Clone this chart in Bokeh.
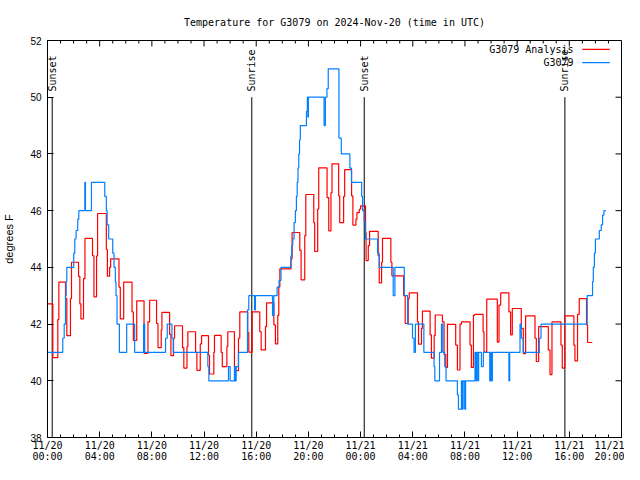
import math
from bokeh.plotting import figure
from bokeh.models import Range1d, FixedTicker
from bokeh.core.properties import value
from bokeh.embed import file_html
from bokeh.resources import INLINE

# ---------------- data (hours since 2024-11-20 00:00 UTC) ----------------
red_t = [0.0, 0.41, 0.79, 0.87, 1.38, 1.48, 1.76, 1.84, 2.38, 2.48, 2.56, 2.76, 2.87, 3.45, 3.56,
         3.76, 3.84, 4.51, 4.59, 4.76, 4.84, 5.48, 5.58, 5.84, 6.48, 6.58, 6.84, 7.4, 7.7, 7.83,
         8.36, 8.47, 8.72, 8.77, 9.36, 9.46, 9.66, 9.74, 10.35, 10.45, 10.69, 10.76, 11.35, 11.45,
         11.71, 11.81, 12.34, 12.42, 12.75, 12.8, 13.31, 13.4, 13.75, 13.82, 14.33, 14.41, 14.64,
         14.74, 15.35, 15.43, 15.69, 16.27, 16.38, 16.71, 16.79, 17.35, 17.47, 17.65, 17.73, 17.81,
         18.67, 18.75, 19.34, 19.44, 19.72, 19.8, 20.41, 20.48, 20.71, 20.79, 21.43, 21.56, 21.73,
         21.81, 22.32, 22.4, 22.7, 22.78, 23.31, 23.41, 23.64, 23.72, 23.9, 24.0, 24.38, 24.42,
         24.59, 24.69, 25.35, 25.43, 25.61, 25.68, 26.32, 26.4, 27.3, 27.42, 27.65, 27.73, 28.36,
         28.44, 28.67, 28.74, 29.33, 29.43, 29.64, 29.72, 30.27, 30.4, 30.53, 30.66, 30.71, 31.29,
         31.42, 31.62, 31.73, 32.39, 32.49, 32.65, 32.75, 33.39, 33.46, 33.67, 34.48, 34.61, 34.74,
         35.37, 35.5, 35.63, 35.71, 36.32, 36.47, 36.65, 37.37, 37.47, 37.65, 38.39, 38.52, 38.67,
         39.36, 39.46, 39.66, 40.35, 40.43, 40.63, 40.76, 41.32, 41.4, 41.76]
red_v = [42.71, 40.82, 42.16, 43.48, 42.9, 41.59, 42.9, 44.18, 43.68, 42.71, 42.18, 43.6, 45.02, 44.41, 42.96,
         44.4, 45.9, 44.63, 43.69, 44.0, 44.3, 43.3, 42.18, 43.48, 42.43, 41.42, 42.82, 40.97, 42.08, 42.84,
         42.02, 41.17, 41.79, 42.41, 41.64, 40.89, 41.5, 41.94, 41.17, 40.45, 41.2, 41.73, 41.0, 40.37,
         41.3, 41.59, 40.9, 40.24, 41.0, 41.6, 41.0, 40.5, 41.2, 41.73, 40.5, 40.36, 41.5,
         42.43, 41.7, 41.01, 42.43, 41.73, 41.09, 41.91, 42.75, 41.97, 41.3, 42.31, 43.31, 43.95,
         44.3, 45.23, 44.6, 43.56, 45.12, 46.57, 45.58, 44.56, 46.05, 47.51, 46.46, 45.29, 46.63,
         47.65, 46.52, 45.58, 46.5, 47.45, 46.52, 45.49, 45.7, 45.93, 46.05, 46.17, 45.23, 44.24,
         44.77, 45.27, 44.41, 43.45, 44.18, 45.02, 44.18, 43.7, 43.0, 42.02, 42.9, 43.1, 42.08,
         41.29, 41.85, 42.46, 41.62, 40.8, 41.6, 42.32, 42.08, 40.92, 40.47, 42.0, 41.99, 41.26,
         40.38, 42.0, 42.08, 41.26, 40.47, 42.31, 42.34, 41.73, 41.01, 42.88, 41.36, 42.67, 43.1,
         42.43, 41.62, 42.55, 42.55, 41.85, 40.96, 42.29, 41.5, 40.68, 41.91, 41.09, 40.22, 42.08,
         41.26, 40.45, 42.29, 41.26, 40.7, 42.34, 42.9, 41.97, 41.35, 41.35]

blue_t = [0.0, 1.17, 1.28, 1.38, 1.43, 1.48, 2.01, 2.09, 2.19, 2.32, 2.40, 2.86, 2.91, 3.37, 4.39,
          4.51, 4.57, 4.69, 5.0, 5.1, 5.2, 5.25, 5.33, 5.51, 6.07, 6.68, 7.37, 7.45, 9.05, 9.18,
          9.54, 9.64, 12.29, 12.37, 13.87, 14.0, 14.33, 14.38, 14.46, 14.64, 15.33, 15.43, 15.87,
          15.94, 17.25, 17.35, 17.6, 17.75, 17.9, 18.65, 18.72, 18.8, 18.9, 19.0, 19.08, 19.14,
          19.2, 19.26, 19.32, 19.38, 19.85, 19.92, 19.96, 20.0, 21.2, 21.3, 21.42, 21.52, 22.34,
          22.52, 23.18, 23.3, 24.08, 24.15, 24.28, 24.38, 25.3, 25.43, 26.5, 26.63, 27.35, 27.6,
          27.98, 28.1, 28.2, 28.85, 29.63, 29.69, 30.05, 30.2, 30.3, 30.45, 30.55, 31.42, 31.5,
          31.73, 31.8, 31.86, 31.98, 32.05, 32.77, 32.85, 32.9, 33.0, 33.05, 33.26, 33.41, 33.9,
          33.97, 34.05, 34.1, 35.37, 35.43, 36.22, 36.32, 36.47, 37.7, 37.83, 41.37, 41.78, 41.84,
          41.92, 42.0, 42.3, 42.45, 42.55, 42.65, 42.8]
blue_v = [41.0, 41.5, 42.0, 43.0, 43.5, 44.0, 44.5, 45.0, 45.3, 45.7, 46.0, 47.0, 46.0, 47.0, 46.5,
          46.0, 45.5, 45.0, 44.5, 44.0, 43.5, 43.0, 42.0, 41.0, 42.0, 41.0, 42.0, 41.0, 41.5, 42.0,
          41.5, 41.0, 40.5, 40.0, 40.5, 40.0, 40.5, 40.0, 40.5, 41.0, 42.5, 43.0, 42.5,
          43.0, 42.3, 43.0, 43.3, 43.54, 44.0, 44.4, 44.77, 45.0, 45.58, 46.0, 46.5, 47.0,
          47.5, 48.0, 48.5, 49.0, 49.5, 50.0, 49.3, 50.0, 49.0, 50.0, 50.3, 51.0, 48.56,
          48.0, 47.5, 47.0, 46.5, 46.0, 45.6, 45.0, 44.5, 44.0, 43.0, 44.0, 43.0, 42.0,
          41.5, 41.0, 42.0, 41.0, 40.5, 40.0, 41.0, 42.0, 41.0, 40.5, 40.0, 39.5, 39.0,
          40.0, 39.0, 40.0, 39.0, 40.0, 41.0, 40.0, 41.0, 40.0, 41.0, 40.5, 41.0, 40.0,
          41.0, 40.0, 41.0, 40.0, 41.0, 42.0, 41.5, 41.0, 41.5, 42.0, 43.0, 43.5, 44.0,
          44.5, 45.0, 45.3, 45.5, 45.84, 46.0, 46.0]

event_t = [0.36, 15.66, 24.28, 39.66]
event_labels = ["Sunset", "Sunrise", "Sunset", "Sunrise"]

x_ticks = [0, 4, 8, 12, 16, 20, 24, 28, 32, 36, 40, 44]
x_tick_labels = ["11/20\n00:00", "11/20\n04:00", "11/20\n08:00", "11/20\n12:00", "11/20\n16:00",
                 "11/20\n20:00", "11/21\n00:00", "11/21\n04:00", "11/21\n08:00", "11/21\n12:00",
                 "11/21\n16:00", "11/21\n20:00"]
x_minor = list(range(0, 45))
y_ticks = [38, 40, 42, 44, 46, 48, 50, 52]

title_text = "Temperature for G3079 on 2024-Nov-20 (time in UTC)"
series_names = ["G3079 Analysis", "G3079"]
RED = "#ff0000"
BLUE = "#0080ff"
MONO = "DejaVu Sans Mono"
SANS = "Liberation Sans"

X0, X1, Y0, Y1 = 0, 44, 38, 52
FRAME_W, FRAME_H = 575, 400
p = figure(width=624, height=464, x_range=Range1d(X0, X1), y_range=Range1d(Y0, Y1),
           output_backend="svg", toolbar_location=None,
           min_border_left=46, min_border_right=3, min_border_top=40, min_border_bottom=24)
p.background_fill_color = "white"
p.border_fill_color = "white"
p.outline_line_color = "black"
p.outline_line_width = 1
p.xgrid.visible = False
p.ygrid.visible = False

px_y = (Y1 - Y0) / FRAME_H
px_x = (X1 - X0) / FRAME_W

p.title.text = title_text
p.title.align = "center"
p.title.vertical_align = "top"
p.title.standoff = 21
p.title.text_font = MONO
p.title.text_font_size = "10px"
p.title.text_font_style = "normal"
p.title.text_color = "black"

def style_axis(ax, font, size):
    ax.axis_line_color = "black"
    ax.major_tick_in = 6
    ax.major_tick_out = 0
    ax.minor_tick_in = 3
    ax.minor_tick_out = 0
    ax.major_tick_line_color = "black"
    ax.minor_tick_line_color = "black"
    ax.major_label_text_font = font
    ax.major_label_text_font_size = size
    ax.major_label_text_color = "black"

xax = p.xaxis[0]
xax.ticker = FixedTicker(ticks=x_ticks, minor_ticks=x_minor)
xax.major_label_overrides = {t: lab for t, lab in zip(x_ticks, x_tick_labels)}
style_axis(xax, MONO, "10px")
xax.major_label_standoff = 2
xax.major_label_text_line_height = 1.0

yax = p.yaxis[0]
yax.ticker = FixedTicker(ticks=y_ticks, minor_ticks=[])
style_axis(yax, SANS, "10px")
yax.major_label_standoff = 6
yax.axis_label = "degrees F"
yax.axis_label_text_font = SANS
yax.axis_label_text_font_size = "11px"
yax.axis_label_text_font_style = "normal"
yax.axis_label_text_color = "black"
yax.axis_label_standoff = 12

# mirrored ticks on the top and right edges (gnuplot style)
top_x = [t for t in x_minor]
top_len = [6 * px_y if t in x_ticks else 3 * px_y for t in top_x]
p.segment(x0=top_x, y0=[Y1] * len(top_x), x1=top_x, y1=[Y1 - l for l in top_len],
          line_color="black", line_width=1)
p.segment(x0=[X1] * len(y_ticks), y0=y_ticks, x1=[X1 - 6 * px_x] * len(y_ticks), y1=y_ticks,
          line_color="black", line_width=1)

# sunrise / sunset markers
p.segment(x0=event_t, y0=[Y0] * len(event_t), x1=event_t, y1=[50.0] * len(event_t),
          line_color="black", line_width=1)
p.text(x=event_t, y=[50.2] * len(event_t), text=event_labels, angle=math.pi / 2,
       text_align="left", text_baseline="middle", text_font=value(MONO),
       text_font_size="10px", text_color="black")

# data
p.step(red_t, red_v, mode="after", line_color=RED, line_width=1.2)
p.step(blue_t, blue_v, mode="after", line_color=BLUE, line_width=1.2)

# legend (gnuplot style: text right-aligned, sample to the right)
p.text(x=[40.32, 40.32], y=[51.69, 51.22], text=series_names, text_align="right",
       text_baseline="middle", text_font=value(MONO), text_font_size="10px", text_color="black")
p.segment(x0=[40.99, 40.99], y0=[51.69, 51.22], x1=[43.1, 43.1], y1=[51.69, 51.22],
          line_color=[RED, BLUE], line_width=1.2)

open("out.html", "w").write(file_html(p, INLINE))
